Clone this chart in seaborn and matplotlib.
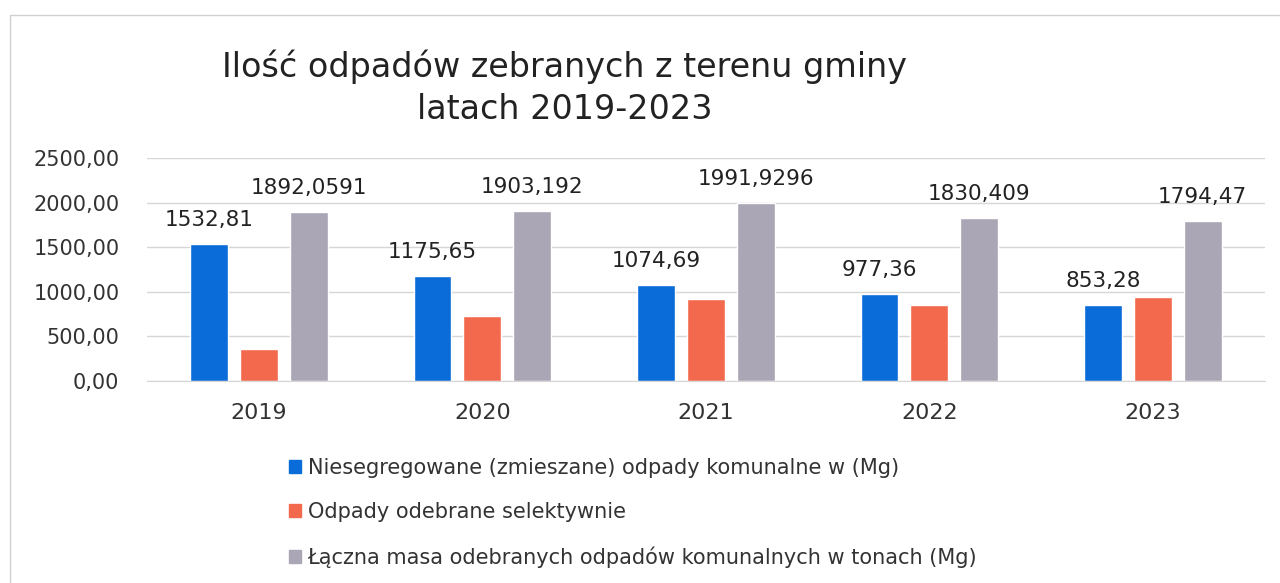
import matplotlib.pyplot as plt
import matplotlib.patches as mpatches
import pandas as pd
import seaborn as sns
from matplotlib.ticker import FuncFormatter

years = ['2019', '2020', '2021', '2022', '2023']
mixed = [1532.81, 1175.65, 1074.69, 977.36, 853.28]
selective = [359.25, 727.54, 917.24, 853.05, 941.19]
total = [1892.0591, 1903.192, 1991.9296, 1830.409, 1794.47]

mixed_labels = ['1532,81', '1175,65', '1074,69', '977,36', '853,28']
total_labels = ['1892,0591', '1903,192', '1991,9296', '1830,409', '1794,47']

series_names = [
    'Niesegregowane (zmieszane) odpady komunalne w (Mg)',
    'Odpady odebrane selektywnie',
    'Łączna masa odebranych odpadów komunalnych w tonach (Mg)',
]
colors = ['#0A6CD9', '#F3694D', '#AAA6B5']

df = pd.DataFrame({
    'rok': years * 3,
    'wartosc': mixed + selective + total,
    'seria': [series_names[0]] * 5 + [series_names[1]] * 5 + [series_names[2]] * 5,
})

sns.set_style('white')
plt.rcParams['font.family'] = ['DejaVu Sans']

fig = plt.figure(figsize=(12.8, 5.83), dpi=100)
ax = fig.add_axes([0.115, 0.3465, 0.873, 0.3825])

sns.barplot(data=df, x='rok', y='wartosc', hue='seria', palette=colors,
            width=0.67, gap=0.24, ax=ax, legend=False, saturation=1)

ax.bar_label(ax.containers[0], labels=mixed_labels, padding=10, fontsize=15.5, color='#222222')
ax.bar_label(ax.containers[2], labels=total_labels, padding=10, fontsize=15.5, color='#222222')

ax.set_ylim(0, 2500)
ax.set_xlim(-0.5, 4.5)
ax.set_yticks([0, 500, 1000, 1500, 2000, 2500])
ax.yaxis.set_major_formatter(FuncFormatter(lambda v, p: f'{v:.2f}'.replace('.', ',')))
ax.grid(axis='y', color='#D6D6D6', linewidth=1)
ax.set_axisbelow(True)
sns.despine(ax=ax, left=True, top=True, right=True, bottom=False)
ax.spines['bottom'].set_color('#D6D6D6')
ax.tick_params(axis='y', length=0, labelsize=15, colors='#333333', pad=20)
ax.tick_params(axis='x', length=0, labelsize=16, colors='#333333', pad=16)
ax.set_xlabel('')
ax.set_ylabel('')

fig.text(0.441, 0.886, 'Ilość odpadów zebranych z terenu gminy', ha='center', va='center',
         fontsize=24, color='#222222')
fig.text(0.441, 0.812, 'latach 2019-2023', ha='center', va='center',
         fontsize=24, color='#222222')

handles = [mpatches.Patch(color=c, label=n) for c, n in zip(colors, series_names)]
fig.legend(handles=handles, loc='upper left', bbox_to_anchor=(0.211, 0.247), frameon=False,
           fontsize=15, labelspacing=1.16, handlelength=0.6, handleheight=0.6,
           handletextpad=0.3, labelcolor='#333333')

fig.patches.append(mpatches.Rectangle((0.008, -0.1), 1.1, 1.074, transform=fig.transFigure,
                                      fill=False, edgecolor='#D0D0D0', linewidth=1))

fig.savefig('out.png', dpi=100)
